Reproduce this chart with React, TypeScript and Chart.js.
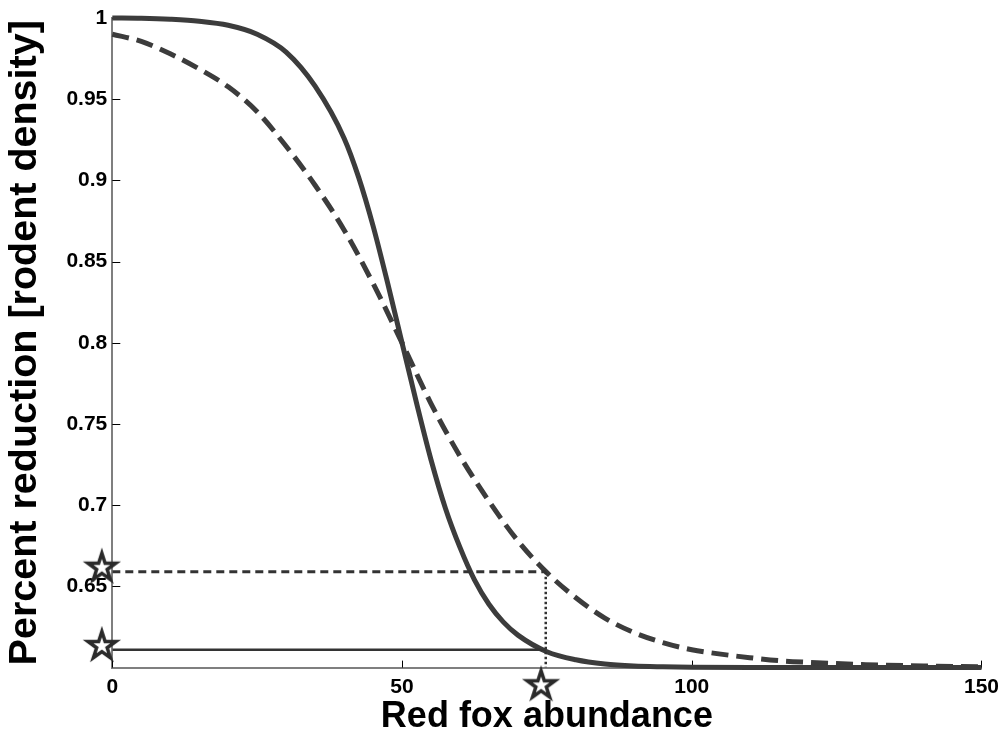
import { useEffect, useRef } from "react";
import { Chart, registerables } from "chart.js";

Chart.register(...registerables);

// ---- data ----
const xSolid = [0, 5, 10, 15, 20, 25, 30, 35, 40, 42.5, 45, 47.5, 50, 52.5, 55, 57.5, 60, 62.5, 65, 67.5, 70, 75, 80, 85, 90, 95, 100, 110, 120, 130, 140, 150];
const ySolid = [1.0, 0.9998, 0.9992, 0.998, 0.9955, 0.99, 0.979, 0.958, 0.926, 0.902, 0.872, 0.837, 0.8, 0.763, 0.728, 0.698, 0.674, 0.654, 0.639, 0.628, 0.62, 0.6098, 0.6048, 0.6022, 0.601, 0.6005, 0.6002, 0.6, 0.6, 0.6, 0.6, 0.6];

const xDashed = [0, 5, 10, 15, 20, 25, 30, 35, 40, 45, 50, 55, 60, 65, 70, 75, 80, 85, 90, 95, 100, 105, 110, 115, 120, 130, 140, 150];
const yDashed = [0.99, 0.9856, 0.978, 0.9686, 0.9576, 0.9423, 0.921, 0.897, 0.8695, 0.8366, 0.8, 0.7626, 0.7302, 0.7025, 0.678, 0.6585, 0.643, 0.6305, 0.6216, 0.6154, 0.611, 0.6083, 0.6061, 0.6043, 0.6033, 0.6018, 0.601, 0.6005];

const refX = [0, 74.8];
const refDashedY = 0.659;
const refSolidY = 0.611;
const dropX = 74.8;
const dropY = [0.659, 0.6];

// stars: one under the x axis, two left of the y axis
const starX = [74, -1.8, -1.8];
const starY = [0.5891, 0.6615, 0.6133];

const xTickValues = [0, 50, 100, 150];
const xTickLabels = ["0", "50", "100", "150"];
const yTickValues = [0.65, 0.7, 0.75, 0.8, 0.85, 0.9, 0.95, 1];
const yTickLabels = ["0.65", "0.7", "0.75", "0.8", "0.85", "0.9", "0.95", "1"];

const xTitle = "Red fox abundance";
const yTitle = "Percent reduction [rodent density]";

const LINE = "#3c3c3c";
const REF = "#333333";
const AXIS = "#7f7f7f";
const FONT = "'Liberation Sans', Arial, Helvetica, sans-serif";

function makeStar(): HTMLCanvasElement {
  const c = document.createElement("canvas");
  c.width = 44;
  c.height = 44;
  const g = c.getContext("2d")!;
  const cx = 22, cy = 22, R = 14.5, r = R * 0.382;
  g.beginPath();
  for (let i = 0; i < 10; i++) {
    const rad = i % 2 === 0 ? R : r;
    const a = -Math.PI / 2 + (i * Math.PI) / 5;
    const px = cx + rad * Math.cos(a);
    const py = cy + rad * Math.sin(a);
    if (i === 0) g.moveTo(px, py);
    else g.lineTo(px, py);
  }
  g.closePath();
  g.fillStyle = "#ffffff";
  g.fill();
  g.lineWidth = 3.5;
  g.lineJoin = "miter";
  g.strokeStyle = "#2a2a2a";
  g.stroke();
  return c;
}

const innerTicks = {
  id: "innerTicks",
  beforeDatasetsDraw(chart: any) {
    const { ctx, chartArea, scales } = chart;
    ctx.save();
    ctx.strokeStyle = "#000";
    ctx.lineWidth = 1;
    ctx.beginPath();
    for (const v of yTickValues) {
      const y = Math.round(scales.y.getPixelForValue(v)) + 0.5;
      ctx.moveTo(chartArea.left, y);
      ctx.lineTo(chartArea.left + 8, y);
    }
    for (const v of xTickValues) {
      const x = Math.round(scales.x.getPixelForValue(v)) + 0.5;
      ctx.moveTo(x, chartArea.bottom);
      ctx.lineTo(x, chartArea.bottom - 7);
    }
    ctx.stroke();
    ctx.restore();
  },
};

export default function App() {
  const ref = useRef<HTMLCanvasElement | null>(null);

  useEffect(() => {
    if (!ref.current) return;
    const star = makeStar();
    const chart = new Chart(ref.current, {
      type: "line",
      data: {
        datasets: [
          {
            data: refX.map((x) => ({ x, y: refDashedY })),
            borderColor: REF,
            borderWidth: 3,
            borderDash: [8, 5],
            pointRadius: 0,
          },
          {
            data: refX.map((x) => ({ x, y: refSolidY })),
            borderColor: REF,
            borderWidth: 2.5,
            pointRadius: 0,
          },
          {
            data: dropY.map((y) => ({ x: dropX, y })),
            borderColor: REF,
            borderWidth: 2.5,
            borderDash: [2.5, 2.5],
            pointRadius: 0,
          },
          {
            data: xDashed.map((x, i) => ({ x, y: yDashed[i] })),
            borderColor: LINE,
            borderWidth: 5,
            borderDash: [17, 8],
            cubicInterpolationMode: "monotone",
            pointRadius: 0,
            clip: 5,
          },
          {
            data: xSolid.map((x, i) => ({ x, y: ySolid[i] })),
            borderColor: LINE,
            borderWidth: 5,
            cubicInterpolationMode: "monotone",
            pointRadius: 0,
            clip: 5,
          },
          {
            data: starX.map((x, i) => ({ x, y: starY[i] })),
            showLine: false,
            pointStyle: star as any,
            pointRadius: 22,
            clip: false as any,
          },
        ] as any,
      },
      options: {
        responsive: false,
        animation: false,
        devicePixelRatio: 1,
        events: [],
        layout: { autoPadding: false, padding: { top: 18, right: 23, left: 0, bottom: 0 } },
        plugins: {
          legend: { display: false },
          tooltip: { enabled: false },
        },
        scales: {
          x: {
            type: "linear",
            min: 0,
            max: 150,
            afterBuildTicks: (s: any) => {
              s.ticks = xTickValues.map((v) => ({ value: v }));
            },
            afterFit: (s: any) => {
              s.height = 72.4;
            },
            ticks: {
              autoSkip: false,
              maxRotation: 0,
              padding: 7,
              color: "#000",
              font: { family: FONT, size: 21, weight: "bold" },
              callback: (_v: any, i: number) => xTickLabels[i],
            },
            grid: { display: false, drawTicks: false },
            border: { display: true, color: AXIS, width: 2 },
            title: {
              display: true,
              text: xTitle,
              color: "#000",
              padding: { top: 0, bottom: 1 },
              font: { family: FONT, size: 36, weight: "bold", lineHeight: 1.2 },
            },
          },
          y: {
            type: "linear",
            min: 0.6,
            max: 1,
            afterBuildTicks: (s: any) => {
              s.ticks = yTickValues.map((v) => ({ value: v }));
            },
            afterFit: (s: any) => {
              s.width = 112.3;
            },
            ticks: {
              autoSkip: false,
              padding: 5,
              color: "#000",
              font: { family: FONT, size: 21, weight: "bold" },
              callback: (_v: any, i: number) => yTickLabels[i],
            },
            grid: { display: false, drawTicks: false },
            border: { display: true, color: AXIS, width: 2 },
            title: {
              display: true,
              text: yTitle,
              color: "#000",
              padding: { top: 1, bottom: 0 },
              font: { family: FONT, size: 39.5, weight: "bold", lineHeight: 1.2 },
            },
          },
        },
      } as any,
      plugins: [innerTicks],
    });
    return () => chart.destroy();
  }, []);

  return (
    <div style={{ position: "absolute", left: 0, top: 0, width: 1006, height: 740, background: "#fff" }}>
      <canvas ref={ref} width={1006} height={740} style={{ width: 1006, height: 740, display: "block" }} />
    </div>
  );
}
